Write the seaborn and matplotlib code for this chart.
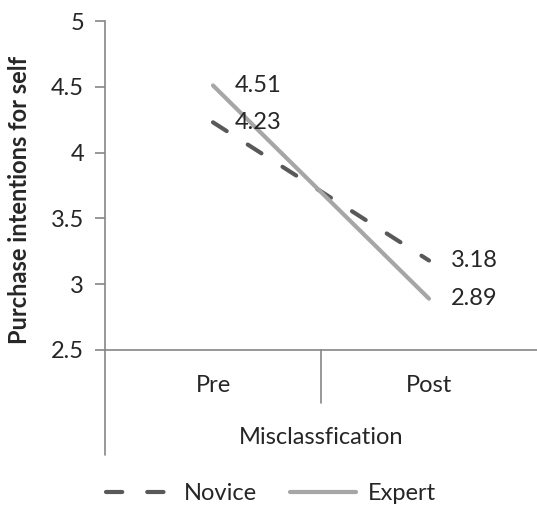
import pandas as pd
import numpy as np
import matplotlib
matplotlib.use('Agg')
import matplotlib.pyplot as plt
import seaborn as sns

# Data
phases = ['Pre', 'Post']
novice = [4.23, 3.18]
expert = [4.51, 2.89]
groups = ['Novice', 'Expert']
y_ticks = [2.5, 3, 3.5, 4, 4.5, 5]
y_tick_labels = ['2.5', '3', '3.5', '4', '4.5', '5']

df = pd.DataFrame({
    'phase': phases * 2,
    'value': novice + expert,
    'group': ['Novice'] * 2 + ['Expert'] * 2})

sns.set_style('white')
plt.rcParams['font.family'] = ['Lato', 'DejaVu Sans']

axis_grey = '#868686'
fs = 17

fig = plt.figure(figsize=(5.37, 5.05), dpi=100)
ax = fig.add_axes([105 / 537, 1 - 350 / 505, 432 / 537, 329 / 505])

sns.lineplot(
    data=df, x='phase', y='value',
    hue='group', style='group',
    palette={'Novice': '#595959', 'Expert': '#A6A6A6'},
    dashes={'Novice': (3.9, 6), 'Expert': ''},
    hue_order=groups, style_order=groups,
    linewidth=3, ax=ax, sort=False,
    dash_capstyle='round', solid_capstyle='round')

ax.set_xlim(-0.5, 1.5)
ax.set_ylim(2.5, 5)
ax.set_yticks(y_ticks)
ax.set_yticklabels(y_tick_labels, fontsize=fs)
ax.set_xticks([])
ax.set_xlabel('')
ax.set_ylabel('Purchase intentions for self', fontsize=17, fontweight='bold')
ax.yaxis.set_label_coords(-0.172, 0.455)

for s in ['top', 'right']:
    ax.spines[s].set_visible(False)
for s in ['left', 'bottom']:
    ax.spines[s].set_color(axis_grey)
    ax.spines[s].set_linewidth(1.2)
ax.tick_params(axis='y', left=True, length=7, width=1.2, color=axis_grey, pad=8)

# category axis decorations (Excel style)
ax.plot([0, 0], [0, -105 / 329], transform=ax.transAxes, color=axis_grey, lw=1.2, clip_on=False)
ax.plot([0.5, 0.5], [0, -53 / 329], transform=ax.transAxes, color=axis_grey, lw=1.2, clip_on=False)
for i, p in enumerate(phases):
    ax.text(0.25 + 0.5 * i, -35 / 329, p, transform=ax.transAxes, ha='center', va='center', fontsize=fs)
ax.text(0.5, -87 / 329, 'Misclassfication', transform=ax.transAxes, ha='center', va='center', fontsize=fs)

# data labels
for vals in [novice, expert]:
    for i, v in enumerate(vals):
        ax.annotate('%.2f' % v, (i, v), xytext=(16, 0), textcoords='offset points',
                    ha='left', va='center', fontsize=fs)

handles, labels = ax.get_legend_handles_labels()
for h in handles:
    h.set_dash_capstyle('round')
    h.set_solid_capstyle('round')
ax.get_legend().remove()
fig.legend(handles, labels, loc='lower center', bbox_to_anchor=(0.505, -0.04), ncol=2,
           frameon=False, fontsize=fs, handlelength=2.8, columnspacing=1.4, handletextpad=0.5)

fig.savefig('out.png', dpi=100)
